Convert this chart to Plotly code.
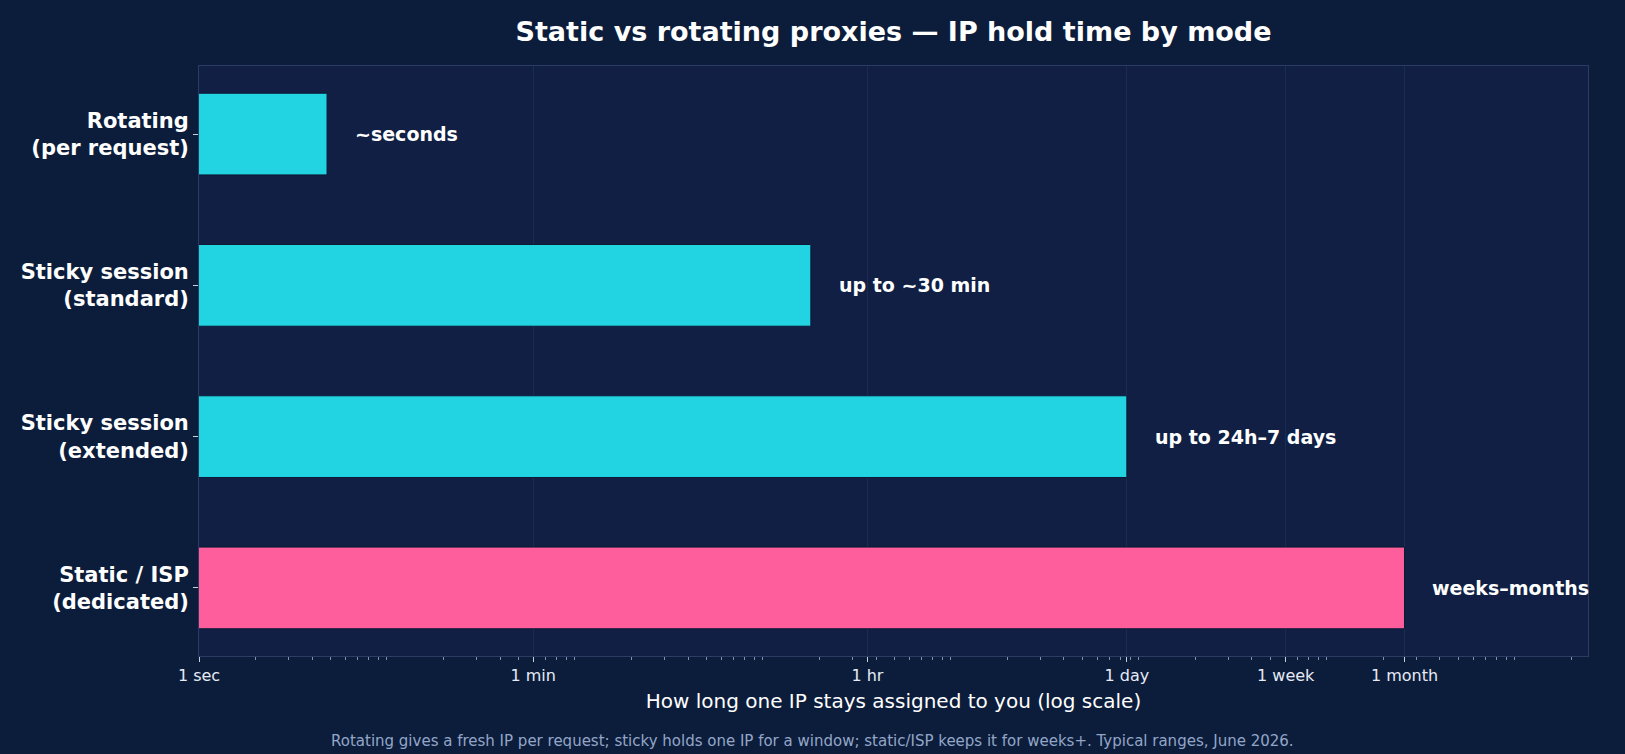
import plotly.graph_objects as go
import math

categories = ["Rotating<br>(per request)", "Sticky session<br>(standard)",
              "Sticky session<br>(extended)", "Static / ISP<br>(dedicated)"]
hold_seconds = [4.8, 1800, 86400, 2592000]
bar_labels = ["~seconds", "up to ~30 min", "up to 24h–7 days", "weeks–months"]
bar_colors = ["#22d3e2", "#22d3e2", "#22d3e2", "#ff5e9c"]
tick_vals = [1, 60, 3600, 86400, 604800, 2592000]
tick_text = ["1 sec", "1 min", "1 hr", "1 day", "1 week", "1 month"]

FONT = "DejaVu Sans"
W, H = 1625, 754
ML, MR, MT, MB = 199, 37, 66, 98

fig = go.Figure()
fig.add_trace(go.Bar(
    y=categories, x=hold_seconds, orientation="h",
    marker=dict(color=bar_colors, line=dict(color="#0c1a36", width=1)),
    hoverinfo="skip", showlegend=False,
))

for cat, val, lab in zip(categories, hold_seconds, bar_labels):
    fig.add_annotation(x=math.log10(val), y=cat, text=f"<b>{lab}</b>", showarrow=False,
                       xanchor="left", yanchor="middle", xshift=26,
                       font=dict(family=FONT, size=19, color="#ffffff"))

footer_x = (W / 2 - ML) / (W - ML - MR)
fig.add_annotation(x=footer_x, y=0, xref="paper", yref="paper", yshift=-85,
                   text="Rotating gives a fresh IP per request; sticky holds one IP for a window; static/ISP keeps it for weeks+. Typical ranges, June 2026.",
                   showarrow=False, xanchor="center", yanchor="middle",
                   font=dict(family=FONT, size=15, color="#93a6c8"))

fig.update_layout(
    width=W, height=H,
    paper_bgcolor="#0c1d3b", plot_bgcolor="#101f43",
    margin=dict(l=ML, r=MR, t=MT, b=MB),
    bargap=0.46,
    title=dict(text="<b>Static vs rotating proxies — IP hold time by mode</b>",
               x=0.5, xref="paper", xanchor="center", y=0.958, yanchor="middle",
               font=dict(family=FONT, size=27, color="#ffffff")),
    font=dict(family=FONT, color="#ffffff"),
)
fig.update_xaxes(
    type="log", range=[0, 7.39],
    tickvals=tick_vals, ticktext=tick_text,
    ticks="outside", ticklen=5, tickcolor="#c8d0e0",
    tickfont=dict(family=FONT, size=16, color="#e6ebf5"),
    minor=dict(ticks="outside", ticklen=3, tickcolor="#8090b0", showgrid=False, dtick="D1"),
    showgrid=True, gridcolor="#1c2b50", gridwidth=1,
    showline=True, linecolor="#2b3b63", mirror=True, zeroline=False,
    title=dict(text="How long one IP stays assigned to you (log scale)",
               font=dict(family=FONT, size=20, color="#ffffff"), standoff=9),
)
fig.update_yaxes(
    type="category", range=[3.45, -0.45],
    ticks="outside", ticklen=5, tickcolor="#c8d0e0",
    tickfont=dict(family=FONT, size=21, color="#ffffff", weight="bold"),
    showgrid=False, showline=True, linecolor="#2b3b63", mirror=True,
)

fig.write_html("out.html")
